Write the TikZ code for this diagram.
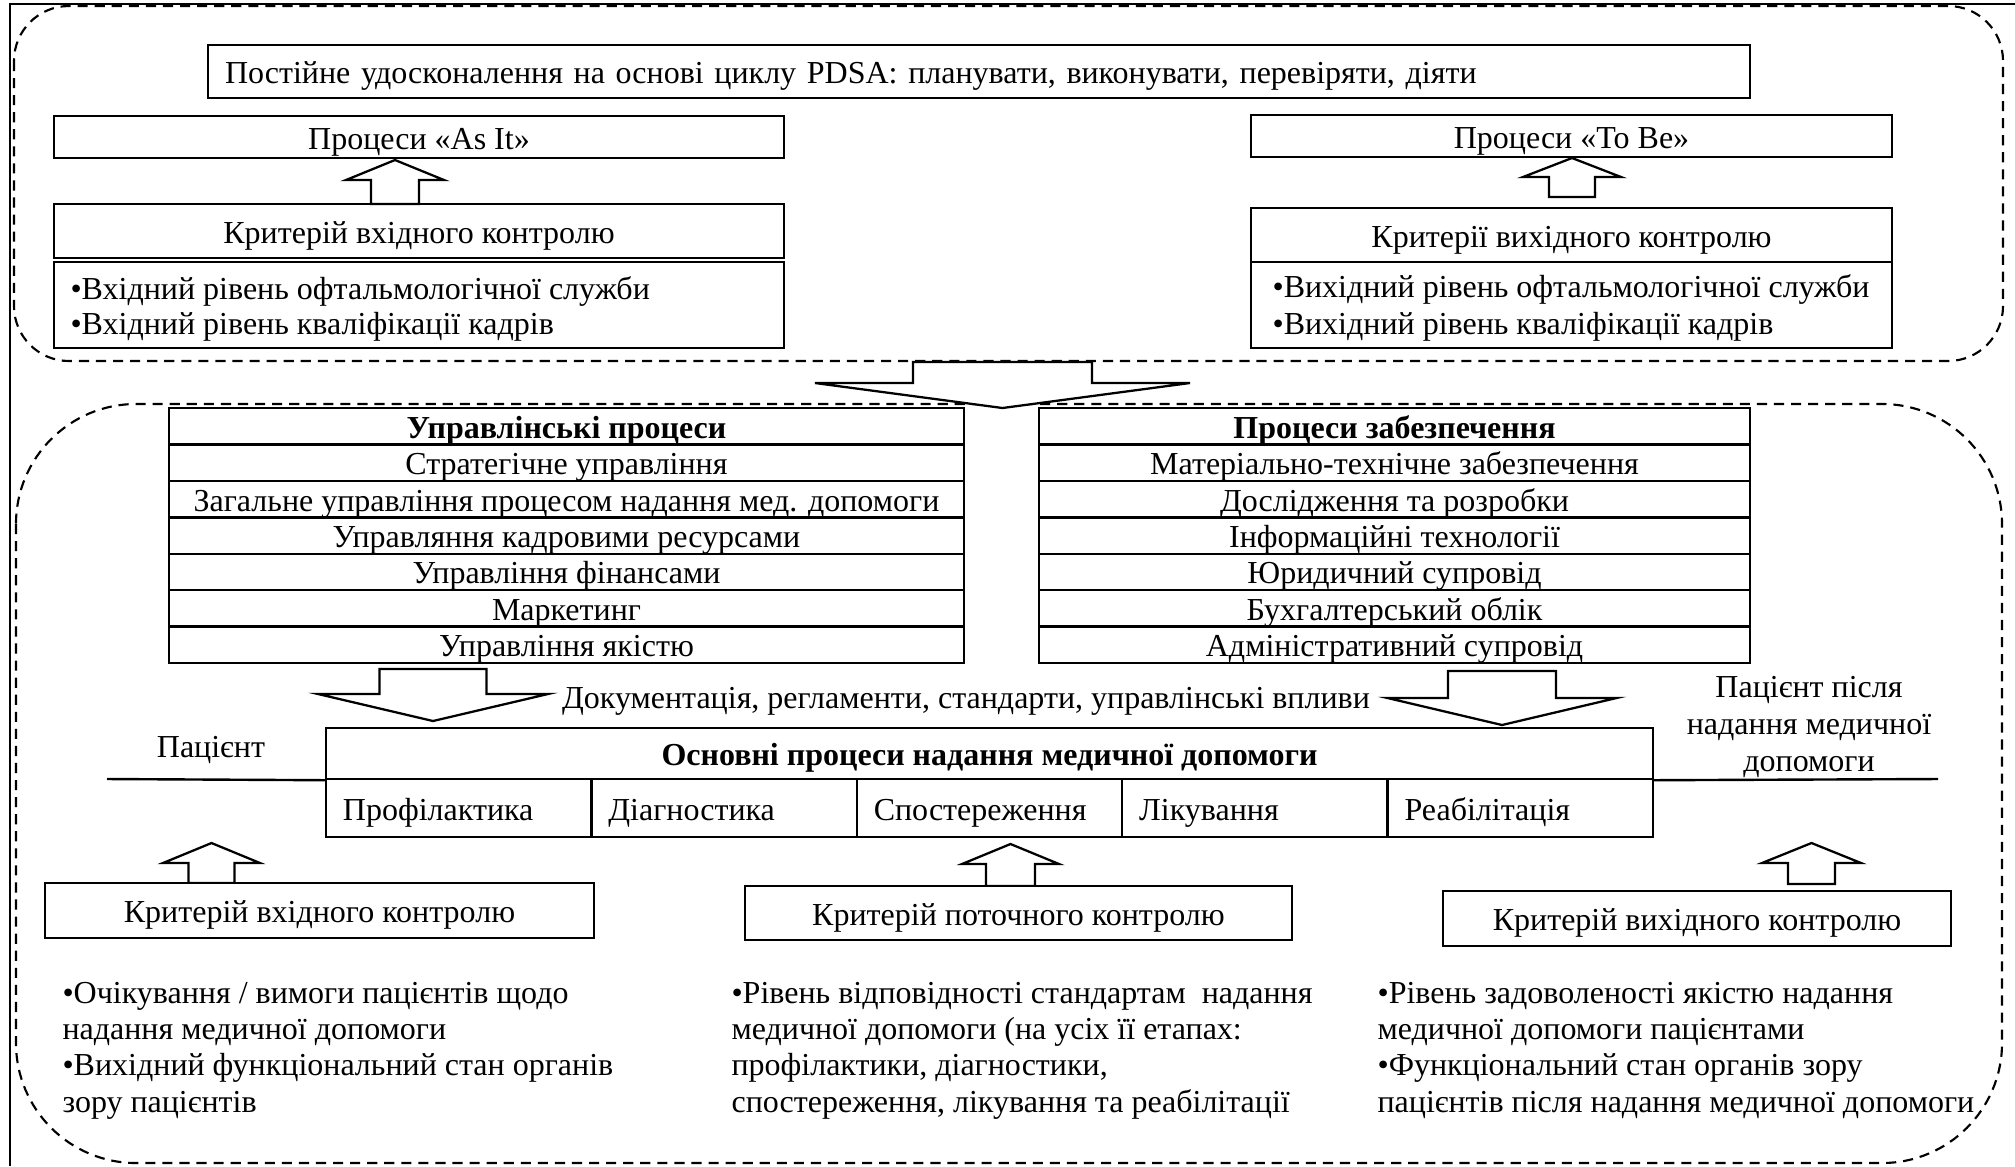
\documentclass[tikz,border=0pt]{standalone}
\usepackage{fontspec}
\setmainfont{Liberation Serif}
% one drawing unit = 0.375pt; y grows downwards
\def\pu{0.375pt}
\tikzset{
  every node/.style={font=\fontsize{12}{14}\selectfont},
  txt/.style={inner sep=0pt, text height=9pt, text depth=2.2pt},
  box/.style={draw, line width=0.9pt, fill=white, inner sep=0pt,
    text height=10.1pt, text depth=1.1pt},
  sz/.style 2 args={minimum width=#1*\pu, minimum height=#2*\pu},
  leftpad/.style={align=left, inner xsep=6.375pt, text width=#1},
  zone/.style={draw, dashed, dash pattern=on 3.8pt off 2.6pt, line width=0.8pt},
  blk/.style={draw, fill=white, line width=0.85pt, line join=miter},
  frame/.style={line width=1.1pt},
  % block arrow, tip at the origin; #1 shaft half width, #2 head half width,
  % #3 head height, #4 total length
  pics/uparr/.style n args={4}{code={
    \draw[blk] (0,0) -- (#2,#3) -- (#1,#3) -- (#1,#4) -- (-#1,#4)
      -- (-#1,#3) -- (-#2,#3) -- cycle;}},
  pics/dnarr/.style n args={4}{code={
    \draw[blk] (0,0) -- (#2,-#3) -- (#1,-#3) -- (#1,-#4) -- (-#1,-#4)
      -- (-#1,-#3) -- (-#2,-#3) -- cycle;}},
}
\begin{document}
\begin{tikzpicture}[x=0.375pt, y=-0.375pt]
\useasboundingbox (0,0) rectangle (2015,1166);

% page frame
\draw[frame] (10,1166) -- (10,4) -- (2015,4);

% dashed zones
\draw[zone, rounded corners=20.6pt] (14,6) rectangle (2003,361);
\draw[zone, rounded corners=45pt] (16,404) rectangle (2002,1163);

% ---- upper zone ----
\node[box, sz={1542}{53}, leftpad=565.5pt] (pdsa) at (979,71.5)
  {Постійне удосконалення на основі циклу PDSA: планувати, виконувати, перевіряти, діяти};

\node[box, sz={730}{42}] (asit) at (419,137) {Процеси «As It»};
\node[box, sz={730}{54}] (crin) at (419,231) {Критерій вхідного контролю};
\node[box, sz={730}{86}] (inlist) at (419,305) {};
\node[txt, anchor=west] (in1) at (70,290) {•Вхідний рівень офтальмологічної служби};
\node[txt, anchor=west] (in2) at (70,325) {•Вхідний рівень кваліфікації кадрів};
\pic at (395,160) {uparr={24}{49}{20}{44}};

\node[box, sz={641}{42}] (tobe) at (1571.5,136) {Процеси «To Be»};
\node[box, sz={641}{54}] (crout) at (1571.5,235) {Критерії вихідного контролю};
\node[box, sz={641}{86}] (outlist) at (1571.5,305) {};
\node[txt, anchor=west] (out1) at (1272,288) {•Вихідний рівень офтальмологічної служби};
\node[txt, anchor=west] (out2) at (1272,325) {•Вихідний рівень кваліфікації кадрів};
\pic at (1572,158) {uparr={23}{49}{19}{39}};

% arrow from the upper zone into the lower one
\pic at (1002.5,408) {dnarr={89.5}{187.5}{25}{46}};

% ---- management processes ----
\node[box, sz={795}{36.43}, font=\fontsize{12}{14}\selectfont\bfseries] (m0) at (566.5,426.2) {Управлінські процеси};
\node[box, sz={795}{36.43}] (m1) at (566.5,462.6) {Стратегічне управління};
\node[box, sz={795}{36.43}] (m2) at (566.5,499.1) {Загальне управління процесом надання мед. допомоги};
\node[box, sz={795}{36.43}] (m3) at (566.5,535.5) {Управляння кадровими ресурсами};
\node[box, sz={795}{36.43}] (m4) at (566.5,571.9) {Управління фінансами};
\node[box, sz={795}{36.43}] (m5) at (566.5,608.4) {Маркетинг};
\node[box, sz={795}{36.43}] (m6) at (566.5,644.8) {Управління якістю};

% ---- support processes ----
\node[box, sz={711}{36.43}, font=\fontsize{12}{14}\selectfont\bfseries] (s0) at (1394.5,426.2) {Процеси забезпечення};
\node[box, sz={711}{36.43}] (s1) at (1394.5,462.6) {Матеріально-технічне забезпечення};
\node[box, sz={711}{36.43}] (s2) at (1394.5,499.1) {Дослідження та розробки};
\node[box, sz={711}{36.43}] (s3) at (1394.5,535.5) {Інформаційні технології};
\node[box, sz={711}{36.43}] (s4) at (1394.5,571.9) {Юридичний супровід};
\node[box, sz={711}{36.43}] (s5) at (1394.5,608.4) {Бухгалтерський облік};
\node[box, sz={711}{36.43}] (s6) at (1394.5,644.8) {Адміністративний супровід};

% influences on the core processes
\pic at (433,721) {dnarr={53.5}{115}{27}{52}};
\pic at (1502,725) {dnarr={54}{114.5}{27}{54}};
\node[txt] (docs) at (966,699) {Документація, регламенти, стандарти, управлінські впливи};

% ---- core processes ----
\node[box, sz={1327}{51}, font=\fontsize{12}{14}\selectfont\bfseries] (core) at (989.5,753.5)
  {Основні процеси надання медичної допомоги};
\node[box, sz={265.4}{58}, leftpad=86.8pt] (c1) at (458.7,808) {Профілактика};
\node[box, sz={265.4}{58}, leftpad=86.8pt] (c2) at (724.1,808) {Діагностика};
\node[box, sz={265.4}{58}, leftpad=86.8pt] (c3) at (989.5,808) {Спостереження};
\node[box, sz={265.4}{58}, leftpad=86.8pt] (c4) at (1254.9,808) {Лікування};
\node[box, sz={265.4}{58}, leftpad=86.8pt] (c5) at (1520.3,808) {Реабілітація};

\coordinate (patin) at (107,779);
\coordinate (patout) at (1938,779);
\draw[line width=0.9pt] (patin) -- (core.south west);
\draw[line width=0.9pt] (core.south east) -- (patout);
\node[txt] (pat) at (211,748) {Пацієнт};
\node[txt] (pata1) at (1809,688) {Пацієнт після};
\node[txt] (pata2) at (1809,725) {надання медичної};
\node[txt] (pata3) at (1809,762) {допомоги};

% ---- control criteria ----
\pic at (211.5,843) {uparr={23}{48.5}{20}{40}};
\pic at (1010.5,844) {uparr={24.5}{48.5}{20}{42}};
\pic at (1811.5,843) {uparr={23.5}{49.5}{20}{41}};

\node[box, sz={549}{55}] (kin) at (319.5,910.5) {Критерій вхідного контролю};
\node[box, sz={547}{54}] (kcur) at (1018.5,913) {Критерій поточного контролю};
\node[box, sz={508}{55}] (kout) at (1697,918.5) {Критерій вихідного контролю};

\node[txt, anchor=west] (a1) at (62,994) {•Очікування / вимоги пацієнтів щодо};
\node[txt, anchor=west] (a2) at (62,1030) {надання медичної допомоги};
\node[txt, anchor=west] (a3) at (62,1066) {•Вихідний функціональний стан органів};
\node[txt, anchor=west] (a4) at (62,1103) {зору пацієнтів};

\node[txt, anchor=west] (b1) at (731,994) {•Рівень відповідності стандартам\ \ надання};
\node[txt, anchor=west] (b2) at (731,1030) {медичної допомоги (на усіх її етапах:};
\node[txt, anchor=west] (b3) at (731,1066) {профілактики, діагностики,};
\node[txt, anchor=west] (b4) at (731,1103) {спостереження, лікування та реабілітації};

\node[txt, anchor=west] (d1) at (1377,994) {•Рівень задоволеності якістю надання};
\node[txt, anchor=west] (d2) at (1377,1030) {медичної допомоги пацієнтами};
\node[txt, anchor=west] (d3) at (1377,1066) {•Функціональний стан органів зору};
\node[txt, anchor=west] (d4) at (1377,1103) {пацієнтів після надання медичної допомоги};
\end{tikzpicture}
\end{document}
